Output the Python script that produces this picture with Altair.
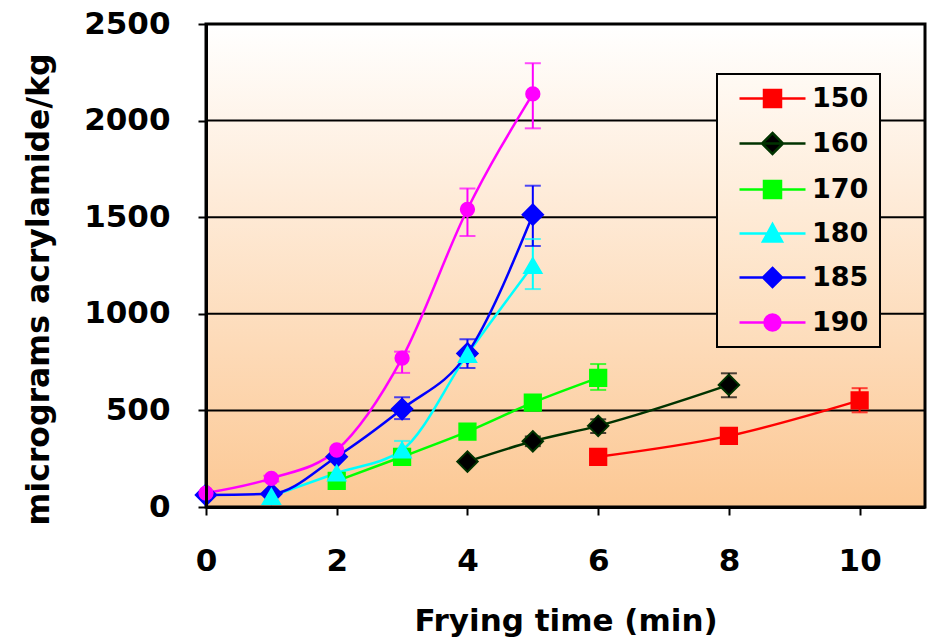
import altair as alt
import pandas as pd

# ---------------- data ----------------
series = ["150", "160", "170", "180", "185", "190"]

t150 = [6, 8, 10]
v150 = [260, 368, 552]
hi150 = [None, None, 615]
lo150 = [None, None, 490]

t160 = [4, 5, 6, 8]
v160 = [235, 340, 420, 632]
hi160 = [None, 365, 454, 692]
lo160 = [None, 315, 383, 568]

t170 = [2, 3, 4, 5, 6]
v170 = [135, 260, 390, 540, 668]
hi170 = [None, None, None, 570, 740]
lo170 = [None, None, None, 510, 606]

t180 = [1, 2, 3, 4, 5]
v180 = [55, 176, 295, 790, 1250]
hi180 = [None, None, 342, None, 1387]
lo180 = [None, None, 250, None, 1128]

t185 = [0, 1, 2, 3, 4, 5]
v185 = [62, 68, 260, 507, 795, 1513]
hi185 = [None, None, None, 568, 868, 1663]
lo185 = [None, None, None, 455, 720, 1351]

t190 = [0, 1, 2, 3, 4, 5]
v190 = [72, 148, 295, 771, 1541, 2138]
hi190 = [None, 162, None, 804, 1649, 2297]
lo190 = [None, 132, None, 694, 1403, 1960]

x_ticks = [0, 2, 4, 6, 8, 10]
y_ticks = [0, 500, 1000, 1500, 2000, 2500]
grid_values = [500, 1000, 1500, 2000]

marker_fill = ["#FF0000", "#000000", "#00FF00", "#00FFFF", "#0000FF", "#FF00FF"]
line_color = ["#FF0000", "#003300", "#00FF00", "#00FFFF", "#0000FF", "#FF00FF"]

# ---------------- tables ----------------
rows = []
for s, ts, vs, his, los in [
    ("150", t150, v150, hi150, lo150),
    ("160", t160, v160, hi160, lo160),
    ("170", t170, v170, hi170, lo170),
    ("180", t180, v180, hi180, lo180),
    ("185", t185, v185, hi185, lo185),
    ("190", t190, v190, hi190, lo190),
]:
    for t, v, h, l in zip(ts, vs, his, los):
        rows.append({"s": s, "t": t, "v": v, "hi": h, "lo": l})
df = pd.DataFrame(rows)
df_err = df.dropna(subset=["hi", "lo"]).copy()

W, H = 719, 483
FONT = "DejaVu Sans"

xscale = alt.Scale(domain=[0, 11], nice=False, zero=False)
yscale = alt.Scale(domain=[0, 2500], nice=False)
xaxis = alt.Axis(values=x_ticks, title="Frying time (min)", format="d",
                 labelPadding=31, titlePadding=30, zindex=1, labelFlush=False)
yaxis = alt.Axis(values=y_ticks, title="micrograms acrylamide/kg", format="d",
                 labelPadding=28, titlePadding=28, zindex=1, labelFlush=False,
                 titleY=265, titleFontSize=31.5)

X = alt.X("t:Q", scale=xscale, axis=xaxis)
Y = alt.Y("v:Q", scale=yscale, axis=yaxis)

fill_scale = alt.Scale(domain=series, range=marker_fill)
stroke_scale = alt.Scale(domain=series, range=line_color)

# background gradient with frame
gradient = alt.LinearGradient(
    gradient="linear",
    stops=[alt.GradientStop(color="#FFFFFF", offset=0),
           alt.GradientStop(color="#FCC894", offset=1)],
    x1=0, x2=0, y1=0, y2=1)
bg = alt.Chart(pd.DataFrame({"a": [0]})).mark_rect(
    fill=gradient, stroke="black", strokeWidth=3
).encode(x=alt.value(0), x2=alt.value(W), y=alt.value(0), y2=alt.value(H))

grid = alt.Chart(pd.DataFrame({"v": grid_values})).mark_rule(
    color="black", strokeWidth=2
).encode(y=Y)

lines = alt.Chart(df).mark_line(strokeWidth=2.5, interpolate="monotone").encode(
    x=X, y=Y, stroke=alt.Stroke("s:N", scale=stroke_scale, legend=None))

err_color = alt.Color("s:N", scale=alt.Scale(domain=series, range=marker_fill), legend=None)
err_rule = alt.Chart(df_err).mark_rule(strokeWidth=2).encode(
    x=X, y=alt.Y("lo:Q", scale=yscale, axis=yaxis), y2="hi:Q", color=err_color)
cap_hi = alt.Chart(df_err).mark_tick(orient="horizontal", size=16, thickness=2).encode(
    x=X, y=alt.Y("hi:Q", scale=yscale, axis=yaxis), color=err_color)
cap_lo = alt.Chart(df_err).mark_tick(orient="horizontal", size=16, thickness=2).encode(
    x=X, y=alt.Y("lo:Q", scale=yscale, axis=yaxis), color=err_color)


def markers(members, shape, size, sw=1.5):
    return alt.Chart(df).transform_filter(
        alt.FieldOneOfPredicate(field="s", oneOf=members)
    ).mark_point(shape=shape, filled=True, size=size, strokeWidth=sw, opacity=1).encode(
        x=X, y=Y,
        fill=alt.Fill("s:N", scale=fill_scale, legend=None),
        stroke=alt.Stroke("s:N", scale=stroke_scale, legend=None))


m_sq = markers(["150", "170"], "square", 280)
m_di = markers(["160", "185"], "diamond", 420, 2)
m_tr = markers(["180"], "triangle-up", 330)
m_ci = markers(["190"], "circle", 190)

# legend-only layer: symbol = line segment + marker
paths = [
    "M-0.2,0H6.4M2.25,-0.85H3.95V0.85H2.25Z",
    "M-0.2,0H6.4M3.1,-1.05L4.15,0L3.1,1.05L2.05,0Z",
    "M-0.2,0H6.4M2.25,-0.85H3.95V0.85H2.25Z",
    "M-0.2,0H6.4M3.1,-0.95L4.05,0.8H2.15Z",
    "M-0.2,0H6.4M3.1,-0.95L4.05,0L3.1,0.95L2.15,0Z",
    "M-0.2,0H6.4M2.3,0A0.8,0.8 0 1,0 3.9,0A0.8,0.8 0 1,0 2.3,0Z",
]
leg = alt.Legend(
    title=None, orient="none", legendX=511, legendY=50,
    labelFont=FONT, labelFontSize=27, labelFontWeight="bold", labelColor="black",
    symbolSize=400, symbolStrokeWidth=2.5, symbolOpacity=1,
    labelOffset=57, rowPadding=16, padding=11,
    strokeColor="black",
    fillColor=alt.ExprRef(expr="{gradient:'linear',x1:0,y1:0,x2:0,y2:1,stops:[{offset:0,color:'#FFFAF4'},{offset:1,color:'#FDDCBA'}]}"),
)
legend_layer = alt.Chart(df).mark_point(filled=True, opacity=0, size=400).encode(
    x=X, y=Y,
    fill=alt.Fill("s:N", scale=fill_scale, legend=leg),
    stroke=alt.Stroke("s:N", scale=stroke_scale, legend=leg),
    shape=alt.Shape("s:N", scale=alt.Scale(domain=series, range=paths), legend=leg),
)

chart = alt.layer(
    bg, grid, legend_layer, lines, err_rule, cap_hi, cap_lo, m_sq, m_di, m_tr, m_ci
).properties(
    width=W, height=H,
    autosize=alt.AutoSizeParams(type="none"),
    padding={"left": 206, "top": 24, "right": 3, "bottom": 136},
    background="white",
).configure_view(stroke=None).configure_axis(
    labelFont=FONT, labelFontSize=31, labelFontWeight="bold", labelColor="black",
    titleFont=FONT, titleFontSize=31, titleFontWeight="bold", titleColor="black",
    domainColor="black", domainWidth=3, tickColor="black", tickWidth=2, tickSize=8,
    grid=False,
).configure_legend(strokeWidth=2)

chart.save("out.html", embed_options={"renderer": "svg", "actions": False})
